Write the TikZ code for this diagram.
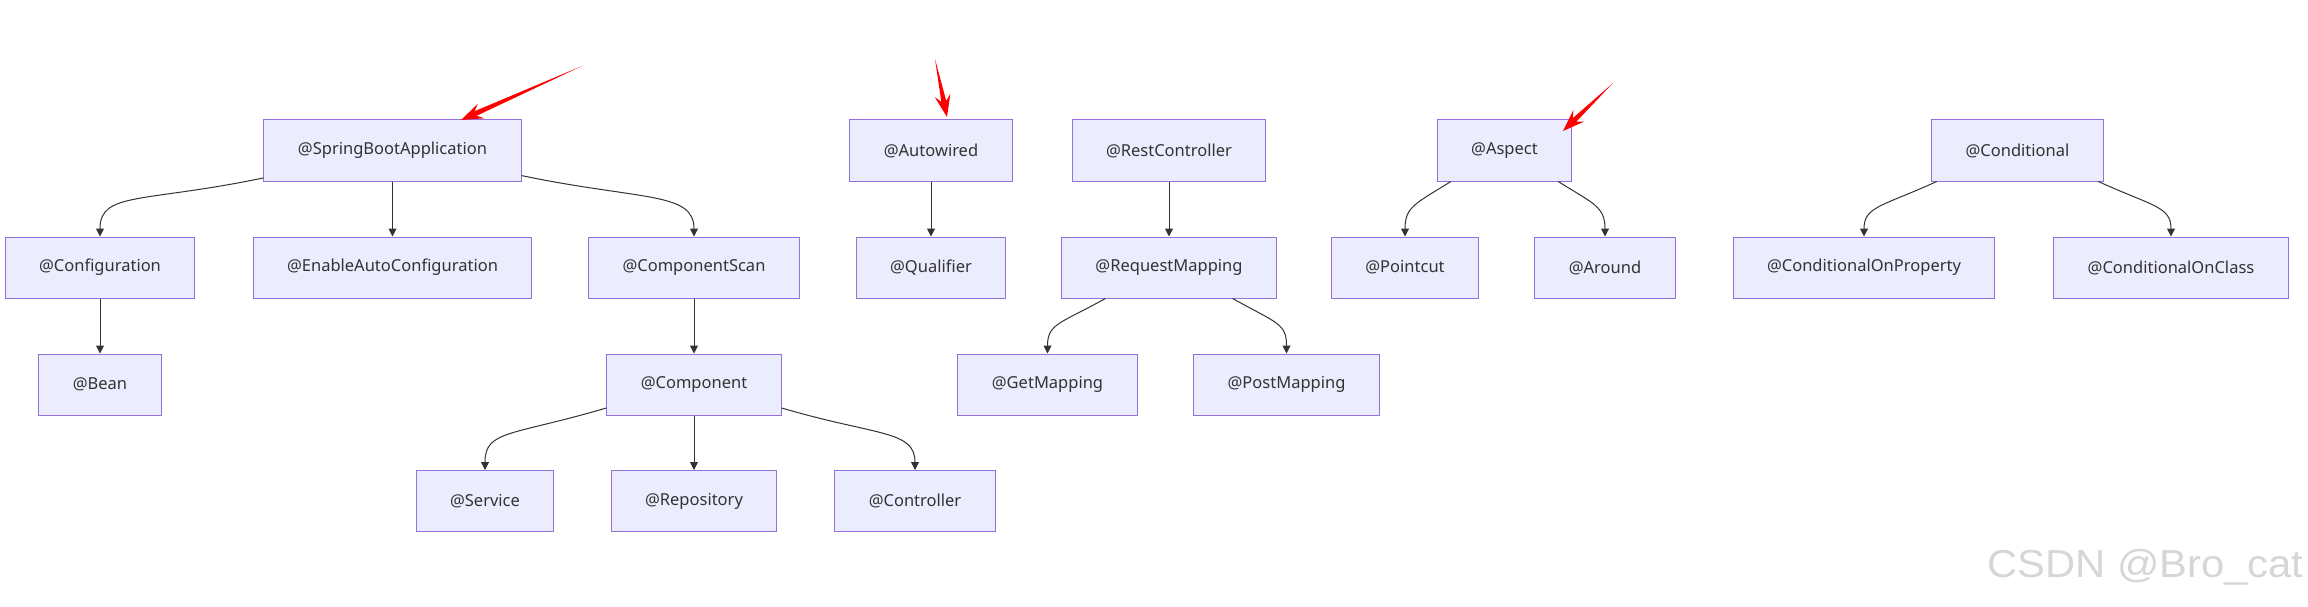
\documentclass[tikz,border=0pt]{standalone}
\usepackage{fontspec}
\setmainfont{Noto Sans}
\newfontfamily\markfont{Liberation Sans}
\usetikzlibrary{arrows.meta,calc}

\definecolor{boxfill}{HTML}{ECECFF}
\definecolor{boxline}{HTML}{9370DB}
\definecolor{inkgray}{HTML}{333333}

\tikzset{
	box/.style={draw=boxline, fill=boxfill, line width=1pt, minimum height=61pt,
		inner xsep=34pt, text=inkgray, font=\fontsize{16.5}{19}\selectfont},
	link/.style={draw=inkgray, line width=1pt, -{Triangle[length=8pt,width=8pt]}},
}

\begin{document}
\begin{tikzpicture}[x=1pt, y=-1pt]

	% Fix the canvas.
	\useasboundingbox[fill=white] (0,0) rectangle (2308,607);

	% Draw annotation boxes.
	\foreach \name/\x/\y/\label in {
			sba/392.5/150.5/@SpringBootApplication,
			cfg/100/267.5/@Configuration,
			eac/392.5/267.5/@EnableAutoConfiguration,
			cs/694/267.5/@ComponentScan,
			bean/100/384.5/@Bean,
			comp/694/384.5/@Component,
			svc/485/501/@Service,
			repo/694/501/@Repository,
			ctrl/915/501/@Controller,
			aw/931/150.5/@Autowired,
			qual/931/267.5/@Qualifier,
			rc/1169/150.5/@RestController,
			rm/1169/267.5/@RequestMapping,
			gm/1047.5/384.5/@GetMapping,
			pm/1286.5/384.5/@PostMapping,
			asp/1504.5/150.5/@Aspect,
			pc/1405/267.5/@Pointcut,
			arr/1605/267.5/@Around,
			cond/2017.5/150.5/@Conditional,
			cop/1864/267.5/@ConditionalOnProperty,
			coc/2171/267.5/@ConditionalOnClass} {
		\node[box] (\name) at (\x,\y) {\label};
	}

	% Draw straight edges.
	\foreach \a/\b in {sba/eac, cfg/bean, cs/comp, comp/repo, aw/qual, rc/rm} {
		\draw[link] (\a) -- (\b);
	}

	% Draw curved edges.
	\draw[link] (sba.192) .. controls +(-120,25) and +(0,-45) .. (cfg.north);
	\draw[link] (sba.-11) .. controls +(120,25) and +(0,-45) .. (cs.north);
	\draw[link] (comp.195) .. controls +(-95,28) and +(0,-40) .. (svc.north);
	\draw[link] (comp.-15) .. controls +(95,28) and +(0,-40) .. (ctrl.north);
	\draw[link] (rm.206) .. controls +(-45,25) and +(0,-30) .. (gm.north);
	\draw[link] (rm.-26) .. controls +(45,25) and +(0,-30) .. (pm.north);
	\draw[link] (asp.210) .. controls +(-35,22) and +(0,-30) .. (pc.north);
	\draw[link] (asp.-30) .. controls +(35,22) and +(0,-30) .. (arr.north);
	\draw[link] (cond.201) .. controls +(-55,25) and +(0,-30) .. (cop.north);
	\draw[link] (cond.-21) .. controls +(55,25) and +(0,-30) .. (coc.north);

	% Red pointers.
	\foreach \n/\tx/\ty/\hx/\hy in {1/582/66/461/120, 2/935/59/947/117, 3/1613/83/1563/131} {
		\coordinate (tail\n) at (\tx,\ty);
		\coordinate (tip\n) at (\hx,\hy);
	}
	\foreach \n in {1,2,3} {
		\coordinate (wing) at ($(tip\n)!22pt!(tail\n)$);
		\coordinate (neck) at ($(tip\n)!16pt!(tail\n)$);
		\fill[red] (tail\n) -- ($(neck)!2.5pt!90:(tip\n)$) -- ($(wing)!8pt!90:(tip\n)$)
			-- (tip\n) -- ($(wing)!8pt!-90:(tip\n)$) -- ($(neck)!2.5pt!-90:(tip\n)$) -- cycle;
	}

	% Watermark.
	\node[anchor=base west, inner sep=0pt, text=black!16,
		font=\markfont\fontsize{39}{44}\selectfont] (mark) at (1987,577)
		{\scalebox{1.07}[1]{CSDN @Bro\_cat}};

\end{tikzpicture}
\end{document}
